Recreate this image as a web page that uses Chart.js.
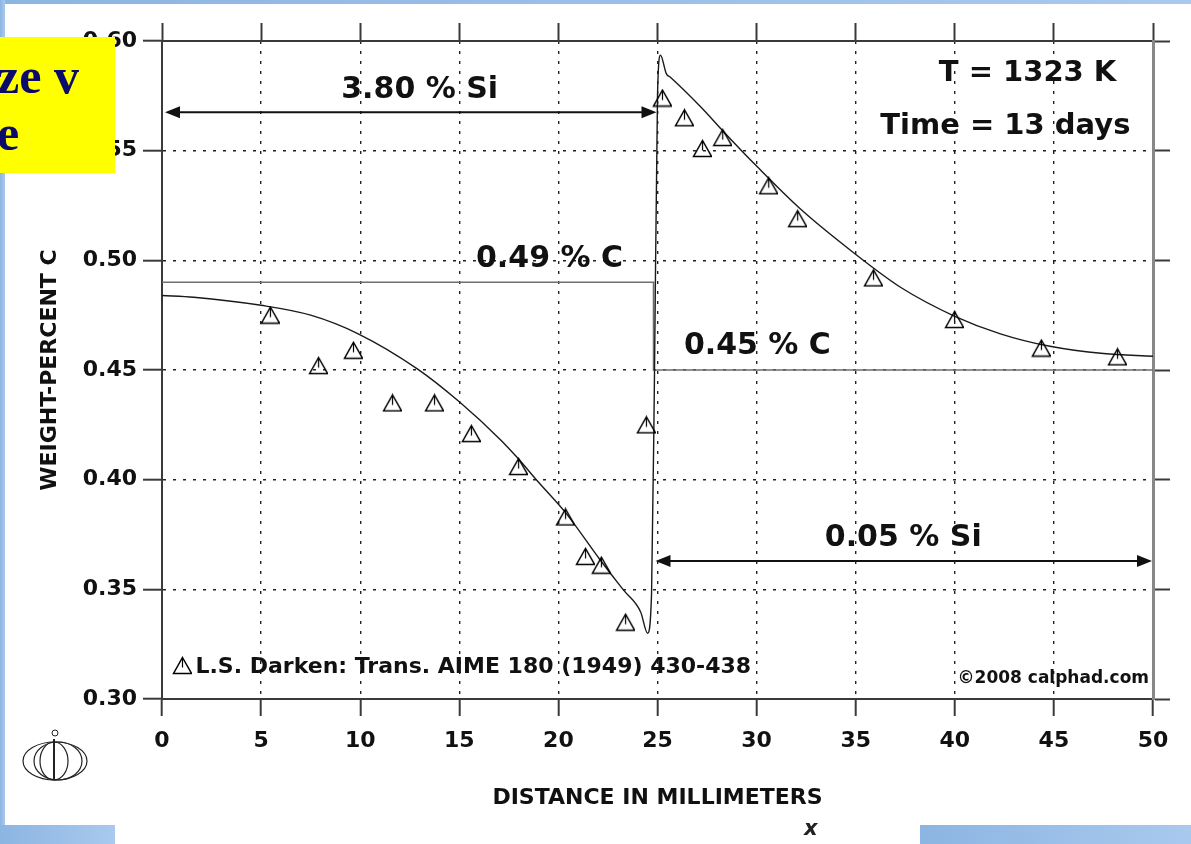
<!DOCTYPE html>
<html>
<head>
<meta charset="utf-8">
<title>Carbon diffusion across a Si step</title>
<script src="https://cdn.jsdelivr.net/npm/chart.js@4.4.1/dist/chart.umd.min.js"></script>
<style>
  html, body { margin: 0; padding: 0; background: #fff; overflow: hidden; }
  #wrap { position: relative; width: 1191px; height: 844px; }
  #chart { position: absolute; left: 0; top: 0; }
  .band { position: absolute; background: linear-gradient(90deg, #8cb5e2, #a9c9ee); }
  #note-box {
    position: absolute; left: 0; top: 37px; width: 115px; height: 136px;
    background: #ffff00; overflow: hidden;
    font: bold 50px "Liberation Serif", "Times New Roman", serif; color: #0b0b6b;
  }
  #note-box div { position: absolute; left: -3px; white-space: nowrap; }
  #x-mark { position: absolute; left: 804px; top: 816px; font: italic bold 21px "DejaVu Sans", sans-serif; color: #222; }
  #logo { position: absolute; left: 20px; top: 728px; }
</style>
</head>
<body>
<div id="wrap">
  <canvas id="chart" width="1191" height="844"></canvas>
  <div class="band" style="left:0;top:0;width:1191px;height:4px"></div>
  <div class="band" style="left:0;top:0;width:5px;height:844px"></div>
  <div class="band" style="left:0;top:825px;width:115px;height:19px"></div>
  <div class="band" style="left:920px;top:825px;width:271px;height:19px"></div>
  <div id="note-box"><div style="top:10px">ze v</div><div style="top:67px">e</div></div>
  <svg id="logo" width="72" height="56" viewBox="0 0 72 56">
    <circle cx="35" cy="5" r="3" fill="none" stroke="#222" stroke-width="1"/>
    <ellipse cx="35" cy="33" rx="32" ry="19" fill="none" stroke="#222" stroke-width="1.2"/>
    <ellipse cx="38" cy="33" rx="24" ry="19" fill="none" stroke="#222" stroke-width="1.2"/>
    <ellipse cx="34" cy="33" rx="14" ry="19" fill="none" stroke="#222" stroke-width="1.2"/>
    <line x1="34" y1="11" x2="34" y2="52" stroke="#222" stroke-width="2"/>
  </svg>
  <div id="x-mark">x</div>
</div>

<script>
// Measured carbon (L.S. Darken, 1949)
const measuredX = [5.42, 7.85, 9.61, 11.58, 13.70, 15.56, 17.94, 20.31, 21.32, 22.12, 23.34, 24.39,
                   25.20, 26.31, 27.22, 28.24, 30.56, 32.02, 35.85, 39.94, 44.32, 48.16];
const measuredC = [0.475, 0.452, 0.459, 0.435, 0.435, 0.421, 0.406, 0.383, 0.365, 0.361, 0.335, 0.425,
                   0.574, 0.565, 0.551, 0.556, 0.534, 0.519, 0.492, 0.473, 0.460, 0.456];

// Calculated profile
const modelX = [0, 1.6, 5.0, 7.5, 9.9, 12.9, 15.0, 17.1, 17.9, 19.0, 20.4, 22.1, 23.3, 24.15, 24.5,
                24.7, 24.85, 25.0, 25.15, 25.45, 25.65, 27.2, 28.3, 30.05, 32.2, 34.75, 37.3, 40.0,
                42.3, 44.8, 47.5, 50];
const modelC = [0.484, 0.4832, 0.4795, 0.475, 0.4665, 0.4504, 0.4355, 0.418, 0.4103, 0.3988, 0.3845,
                0.3635, 0.3495, 0.3397, 0.330, 0.348, 0.45, 0.575, 0.5935, 0.585, 0.5835, 0.5698,
                0.559, 0.5425, 0.5235, 0.5045, 0.4875, 0.4745, 0.4665, 0.4608, 0.4575, 0.4563];

// Initial carbon levels of the couple
const stepX = [0, 24.8, 24.8, 50];
const stepC = [0.49, 0.49, 0.45, 0.45];

// Silicon content spans
const siLabels = ["3.80 % Si", "0.05 % Si"];
const siFrom = [0.15, 24.9];
const siTo = [24.95, 49.95];
const siLevel = [0.5675, 0.3629];
const siLabelX = [13.0, 37.4];
const siLabelC = [0.5776, 0.3734];

// Other notes on the plot
const noteText = ["0.49 % C", "0.45 % C", "T = 1323 K", "Time = 13 days"];
const noteX = [19.55, 30.04, 43.67, 42.55];
const noteC = [0.5005, 0.4609, 0.5853, 0.5612];

const xTicks = [0, 50, 5];
const yTicks = [0.30, 0.60, 0.05];

const FONT = "'DejaVu Sans', Verdana, sans-serif";
Chart.defaults.font.family = FONT;

// open triangle with a stem, like the original symbol
function makeTriangle(w, h) {
  const c = document.createElement("canvas");
  c.width = w + 3;
  c.height = h + 3;
  const g = c.getContext("2d");
  const cx = Math.round(c.width / 2) + 0.5;
  g.strokeStyle = "#000";
  g.lineWidth = 1.5;
  g.beginPath();
  g.moveTo(cx, 1.5);
  g.lineTo(cx + w / 2, h + 1.5);
  g.lineTo(cx - w / 2, h + 1.5);
  g.closePath();
  g.stroke();
  g.lineWidth = 1.2;
  g.beginPath();
  g.moveTo(cx, 2);
  g.lineTo(cx, h * 0.72);
  g.stroke();
  return c;
}
const triMarker = makeTriangle(18, 16);

function arrowHead(ctx, px, py, dir) {
  ctx.beginPath();
  ctx.moveTo(px, py);
  ctx.lineTo(px - dir * 15, py - 6);
  ctx.lineTo(px - dir * 15, py + 6);
  ctx.closePath();
  ctx.fill();
}

const notesPlugin = {
  id: "notes",
  afterDatasetsDraw(chart) {
    const { ctx, scales: { x, y } } = chart;
    ctx.save();
    ctx.fillStyle = "#111";
    ctx.strokeStyle = "#111";
    ctx.textAlign = "center";
    ctx.textBaseline = "middle";

    // Si arrows
    siFrom.forEach((x0, i) => {
      const py = y.getPixelForValue(siLevel[i]);
      const p0 = x.getPixelForValue(x0);
      const p1 = x.getPixelForValue(siTo[i]);
      ctx.lineWidth = 2;
      ctx.beginPath();
      ctx.moveTo(p0 + 8, py);
      ctx.lineTo(p1 - 8, py);
      ctx.stroke();
      arrowHead(ctx, p0, py, -1);
      arrowHead(ctx, p1, py, 1);
      ctx.font = "bold 30px " + FONT;
      ctx.fillText(siLabels[i], x.getPixelForValue(siLabelX[i]), y.getPixelForValue(siLabelC[i]));
    });

    noteText.forEach((t, i) => {
      ctx.font = (i < 2 ? "bold 30px " : "bold 29px ") + FONT;
      ctx.fillText(t, x.getPixelForValue(noteX[i]), y.getPixelForValue(noteC[i]));
    });

    // source legend
    const lx = x.getPixelForValue(0.98);
    const ly = y.getPixelForValue(0.3155);
    ctx.drawImage(triMarker, Math.round(lx - triMarker.width / 2), Math.round(ly - triMarker.height / 2));
    ctx.textAlign = "left";
    ctx.font = "bold 22px " + FONT;
    ctx.fillText("L.S. Darken: Trans. AIME 180 (1949) 430-438", x.getPixelForValue(1.69), y.getPixelForValue(0.3146));

    ctx.textAlign = "right";
    ctx.font = "bold 17px " + FONT;
    ctx.fillText("\u00A92008 calphad.com", x.getPixelForValue(49.8), y.getPixelForValue(0.3091));
    ctx.restore();
  }
};

const frame = "#3a3a3a";
const dots = [3, 7];

new Chart(document.getElementById("chart"), {
  type: "scatter",
  data: {
    datasets: [
      {
        label: "measured",
        data: measuredX.map((v, i) => ({ x: v, y: measuredC[i] })),
        pointStyle: triMarker,
        pointRadius: 9,
        showLine: false
      },
      {
        label: "calculated",
        data: modelX.map((v, i) => ({ x: v, y: modelC[i] })),
        showLine: true,
        cubicInterpolationMode: "monotone",
        borderColor: "#1a1a1a",
        borderWidth: 1.4,
        pointRadius: 0
      },
      {
        label: "initial",
        data: stepX.map((v, i) => ({ x: v, y: stepC[i] })),
        showLine: true,
        borderColor: "#6e6e6e",
        borderWidth: 1.6,
        pointRadius: 0
      }
    ]
  },
  options: {
    responsive: false,
    animation: false,
    layout: { padding: 0 },
    plugins: { legend: { display: false }, tooltip: { enabled: false } },
    scales: {
      x: {
        type: "linear", position: "bottom",
        min: xTicks[0], max: xTicks[1],
        ticks: { stepSize: xTicks[2], color: "#111", padding: 12, font: { size: 22, weight: "bold" } },
        grid: { color: "#222", lineWidth: 1.4, tickLength: 17, tickColor: frame, tickWidth: 2 },
        border: { color: frame, width: 2, dash: dots },
        title: {
          display: true, text: "DISTANCE IN MILLIMETERS", color: "#111",
          font: { size: 22, weight: "bold" }, padding: { top: 0, bottom: 33 }
        },
        afterFit: s => { s.height = 145; }
      },
      x2: {
        type: "linear", position: "top",
        min: xTicks[0], max: xTicks[1],
        ticks: { stepSize: xTicks[2], display: false },
        grid: { drawOnChartArea: false, tickLength: 18, tickColor: frame, tickWidth: 2 },
        border: { color: frame, width: 2 },
        afterFit: s => { s.height = 41; }
      },
      y: {
        type: "linear", position: "left",
        min: yTicks[0], max: yTicks[1],
        ticks: {
          stepSize: yTicks[2], color: "#111", padding: 6, font: { size: 22, weight: "bold" },
          callback: v => v.toFixed(2)
        },
        grid: { color: "#222", lineWidth: 1.4, tickLength: 19, tickColor: frame, tickWidth: 2 },
        border: { color: frame, width: 2, dash: dots },
        title: {
          display: true, text: "WEIGHT-PERCENT C", color: "#111",
          font: { size: 22, weight: "bold" }, padding: { top: 37, bottom: 0 }
        },
        afterFit: s => { s.width = 162; }
      },
      y2: {
        type: "linear", position: "right",
        min: yTicks[0], max: yTicks[1],
        ticks: { stepSize: yTicks[2], display: false },
        grid: { drawOnChartArea: false, tickLength: 17, tickColor: frame, tickWidth: 2 },
        border: { color: "#888", width: 3 },
        afterFit: s => { s.width = 38; }
      }
    }
  },
  plugins: [notesPlugin]
});
</script>
</body>
</html>
